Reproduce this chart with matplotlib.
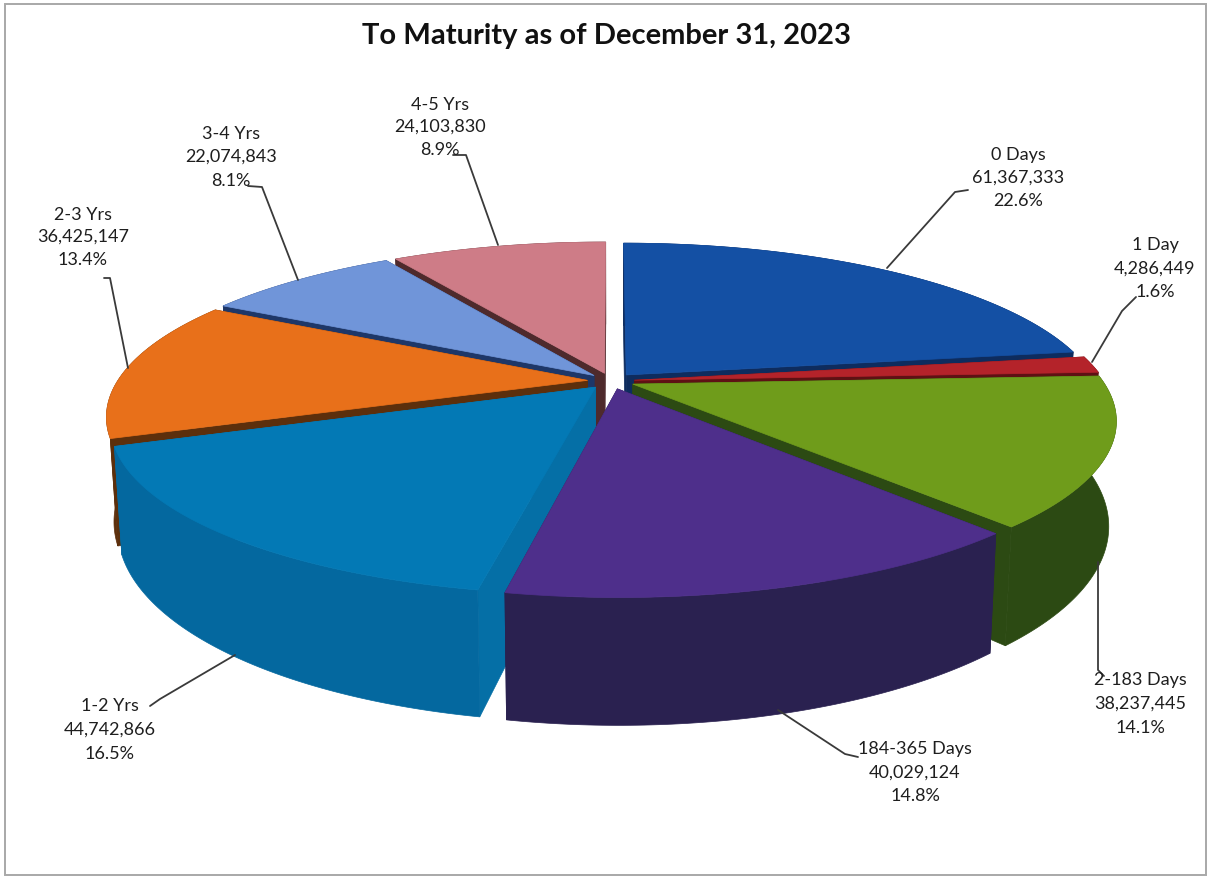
import numpy as np
import matplotlib
matplotlib.use("Agg")
import matplotlib.pyplot as plt
from matplotlib.patches import Rectangle

plt.rcParams['font.family'] = ['Lato', 'DejaVu Sans']

# ---- data ----
categories = ["0 Days", "1 Day", "2-183 Days", "184-365 Days",
              "1-2 Yrs", "2-3 Yrs", "3-4 Yrs", "4-5 Yrs"]
values = [61367333, 4286449, 38237445, 40029124,
          44742866, 36425147, 22074843, 24103830]
title = "To Maturity as of December 31, 2023"

# ---- styles ----
top_colors = ["#1450A4", "#B4232A", "#6F9C1B", "#4E2F8B",
              "#0379B5", "#E8701A", "#7095D9", "#CE7C87"]
side_colors = ["#0E2C5E", "#5E1114", "#2C4A13", "#2A2150",
               "#04689F", "#5C2F0C", "#1E3768", "#4E2A2C"]
cut_colors = ["#0E2C5E", "#5E1114", "#2C4A13", "#2A2150",
              "#056FA6", "#5C2F0C", "#1E3768", "#4E2A2C"]

# ---- layout of the projected pie (pixels) ----
CX, CY = 611.0, 381.0     # centre of the top plane
RX, RY = 470.0, 161.5     # radii before perspective
K = 0.208                 # perspective strength
EXPLODE = 0.05            # slice explosion
DEPTH = 100.0             # pie thickness
SHRINK = 0.985            # bottom plane scale in x

label_pos = [(1018, (155, 178, 201)), (1155, (245, 269, 292)),
             (1140, (680, 704, 728)), (915, (749, 773, 796)),
             (110, (706, 730, 754)), (83, (215, 237, 260)),
             (231, (134, 157, 181)), (440, (105, 127, 150))]
leaders = [[(887, 268), (955, 192), (968, 190)],
           [(1092, 362), (1122, 311), (1136, 297)],
           [(1098, 562), (1098, 670), (1104, 676)],
           [(778, 710), (845, 754), (858, 757)],
           [(235, 655), (160, 699), (150, 706)],
           [(128, 368), (110, 278), (104, 278)],
           [(298, 280), (262, 187), (248, 186)],
           [(498, 245), (466, 155), (453, 155)]]

fig = plt.figure(figsize=(12.10, 8.77), dpi=100, facecolor="white")
ax = fig.add_axes([0, 0, 1, 1])
ax.set_xlim(0, 1210)
ax.set_ylim(877, 0)
ax.axis("off")

ax.add_patch(Rectangle((5, 4), 1201, 871, fill=False, ec="#A8A8A8", lw=1.4))


def project(u, v):
    p = 1.0 / (1.0 + K * v)
    return CX + RX * u * p, CY - RY * v * p, p


def top_pts(u, v):
    x, y, _ = project(u, v)
    return np.asarray(x), np.asarray(y)


def bottom_pts(u, v):
    x, y, p = project(u, v)
    return CX + (x - CX) * SHRINK, y + DEPTH * p


vals = np.array(values, dtype=float)
fracs = vals / vals.sum()
edges = np.concatenate([[0.0], np.cumsum(fracs)]) * 2 * np.pi
mids = (edges[:-1] + edges[1:]) / 2
order = np.argsort(-np.cos(mids))

z = 2
for i in order:
    a0, a1, m = edges[i], edges[i + 1], mids[i]
    du, dv = EXPLODE * np.sin(m), EXPLODE * np.cos(m)
    th = np.linspace(a0, a1, 80)
    u, v = np.sin(th) + du, np.cos(th) + dv
    tx, ty = top_pts(u, v)
    bx, by = bottom_pts(u, v)
    ax0, ay0 = top_pts(du, dv)
    bx0, by0 = bottom_pts(du, dv)
    # radial cut faces
    for k in (0, -1):
        ax.fill([ax0, tx[k], bx[k], bx0], [ay0, ty[k], by[k], by0],
                fc=cut_colors[i], ec=cut_colors[i], lw=0.5, zorder=z)
        z += 1
    # outer wall
    ax.fill(np.r_[tx, bx[::-1]], np.r_[ty, by[::-1]],
            fc=side_colors[i], ec=side_colors[i], lw=0.5, zorder=z)
    z += 1
    # top face
    ax.fill(np.r_[ax0, tx], np.r_[ay0, ty],
            fc=top_colors[i], ec=top_colors[i], lw=0.5, zorder=z)
    z += 1

for pts in leaders:
    xs, ys = zip(*pts)
    ax.plot(xs, ys, color="#3A3A3A", lw=1.3, zorder=z, solid_capstyle="round")

for name, val, f, (x, ys) in zip(categories, values, fracs, label_pos):
    lines = [name, f"{val:,}", f"{f * 100:.1f}%"]
    for line, y in zip(lines, ys):
        ax.text(x, y, line, ha="center", va="center", fontsize=13,
                color="#1E1E1E", zorder=z + 1)

ax.text(607, 36, title, ha="center", va="center", fontsize=21,
        fontweight="bold", color="#111111", zorder=z + 1)

fig.savefig("out.png", dpi=100, facecolor="white")
